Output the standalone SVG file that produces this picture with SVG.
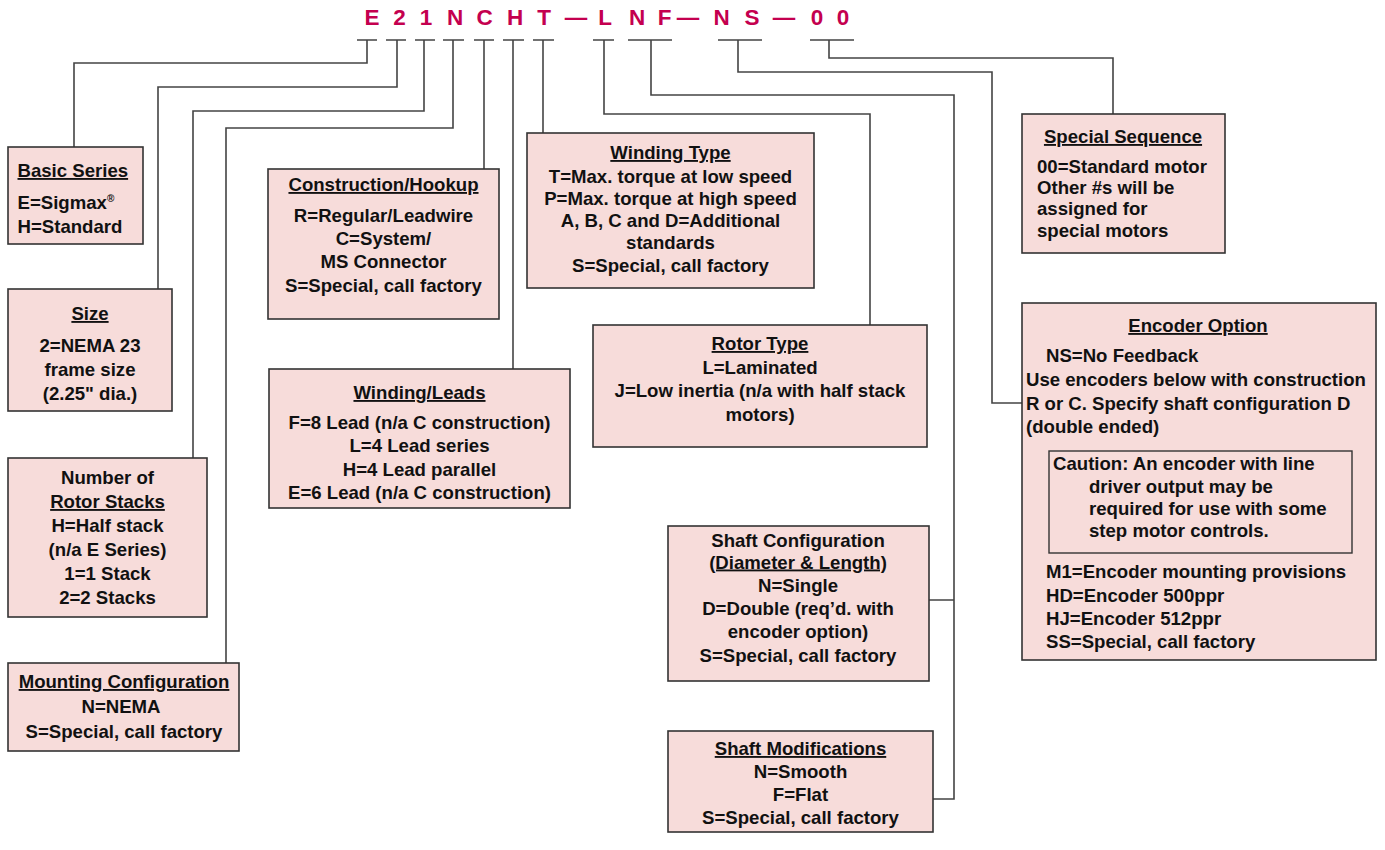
<svg xmlns="http://www.w3.org/2000/svg" width="1385" height="850" viewBox="0 0 1385 850">
<style>
.bg{fill:#ffffff}
.box{fill:#f7dcda;stroke:#333333;stroke-width:1.6}
.inner{fill:none;stroke:#333333;stroke-width:1.4}
.c{fill:none;stroke:#444444;stroke-width:1.6}
text{font-family:"Liberation Sans",Arial,Helvetica,sans-serif;font-weight:bold;font-size:18.6px;fill:#111111}
.m{text-anchor:middle}
.u{text-decoration:underline}
.code{fill:#c4004f;font-size:22.5px;text-anchor:middle}
.sup{font-size:10px}
</style>
<rect class="bg" x="0" y="0" width="1385" height="850"/>

<g id="code">
<text class="code" x="372" y="25">E</text>
<text class="code" x="399.5" y="25">2</text>
<text class="code" x="426" y="25">1</text>
<text class="code" x="455" y="25">N</text>
<text class="code" x="484.5" y="25">C</text>
<text class="code" x="515" y="25">H</text>
<text class="code" x="544" y="25">T</text>
<text class="code" x="576" y="25">—</text>
<text class="code" x="605" y="25">L</text>
<text class="code" x="637" y="25">N</text>
<text class="code" x="664.5" y="25">F</text>
<text class="code" x="688" y="25">—</text>
<text class="code" x="721.5" y="25">N</text>
<text class="code" x="752" y="25">S</text>
<text class="code" x="784" y="25">—</text>
<text class="code" x="817" y="25">0</text>
<text class="code" x="843" y="25">0</text>
</g>

<g id="connectors">
<path class="c" d="M357,40H377M386,40H406M415,40H435M443,40H464M474,40H494M503,40H524M533,40H554M593,40H614M628,40H672M718,40H762M810,40H854"/>
<path class="c" d="M367,40V63H74V147"/>
<path class="c" d="M397,40V87H158V289"/>
<path class="c" d="M424,40V111H193V458"/>
<path class="c" d="M453,40V128H226V663"/>
<path class="c" d="M484,40V169"/>
<path class="c" d="M513,40V369"/>
<path class="c" d="M543,40V133"/>
<path class="c" d="M604,40V114H870V325"/>
<path class="c" d="M651,40V95H954V799H933M929,600H954"/>
<path class="c" d="M738,40V72H992V403H1022"/>
<path class="c" d="M829,40V58H1113V114"/>
</g>

<g id="basic-series">
<rect class="box" x="8" y="147" width="135" height="97"/>
<text class="u" x="17.5" y="177">Basic Series</text>
<text x="17.5" y="209">E=Sigmax<tspan class="sup" dy="-7">®</tspan></text>
<text x="17.5" y="233">H=Standard</text>
</g>

<g id="size">
<rect class="box" x="8" y="289" width="164" height="122"/>
<text class="m u" x="90" y="320">Size</text>
<text class="m" x="90" y="352">2=NEMA 23</text>
<text class="m" x="90" y="376">frame size</text>
<text class="m" x="90" y="400">(2.25" dia.)</text>
</g>

<g id="rotor-stacks">
<rect class="box" x="8" y="458" width="199" height="159"/>
<text class="m" x="107.5" y="484">Number of</text>
<text class="m u" x="107.5" y="508">Rotor Stacks</text>
<text class="m" x="107.5" y="532">H=Half stack</text>
<text class="m" x="107.5" y="556">(n/a E Series)</text>
<text class="m" x="107.5" y="580">1=1 Stack</text>
<text class="m" x="107.5" y="604">2=2 Stacks</text>
</g>

<g id="mounting">
<rect class="box" x="8" y="663" width="231" height="88"/>
<text class="m u" x="124" y="688">Mounting Configuration</text>
<text class="m" x="121" y="713">N=NEMA</text>
<text class="m" x="124" y="738">S=Special, call factory</text>
</g>

<g id="construction">
<rect class="box" x="268" y="169" width="231" height="150"/>
<text class="m u" x="383.5" y="191">Construction/Hookup</text>
<text class="m" x="383.5" y="222">R=Regular/Leadwire</text>
<text class="m" x="383.5" y="245">C=System/</text>
<text class="m" x="383.5" y="268">MS Connector</text>
<text class="m" x="383.5" y="292">S=Special, call factory</text>
</g>

<g id="winding-leads">
<rect class="box" x="269" y="369" width="301" height="139"/>
<text class="m u" x="419.5" y="399">Winding/Leads</text>
<text class="m" x="419.5" y="429">F=8 Lead (n/a C construction)</text>
<text class="m" x="419.5" y="452">L=4 Lead series</text>
<text class="m" x="419.5" y="476">H=4 Lead parallel</text>
<text class="m" x="419.5" y="499">E=6 Lead (n/a C construction)</text>
</g>

<g id="winding-type">
<rect class="box" x="527" y="133" width="287" height="155"/>
<text class="m u" x="670.5" y="159">Winding Type</text>
<text class="m" x="670.5" y="182.5">T=Max. torque at low speed</text>
<text class="m" x="670.5" y="205">P=Max. torque at high speed</text>
<text class="m" x="670.5" y="227">A, B, C and D=Additional</text>
<text class="m" x="670.5" y="249">standards</text>
<text class="m" x="670.5" y="272">S=Special, call factory</text>
</g>

<g id="rotor-type">
<rect class="box" x="593" y="325" width="334" height="122"/>
<text class="m u" x="760" y="350">Rotor Type</text>
<text class="m" x="760" y="374">L=Laminated</text>
<text class="m" x="760" y="397">J=Low inertia (n/a with half stack</text>
<text class="m" x="760" y="421">motors)</text>
</g>

<g id="shaft-config">
<rect class="box" x="668" y="526" width="261" height="155"/>
<text class="m" x="798" y="547">Shaft Configuration</text>
<text class="m u" x="798" y="568.5">(Diameter &amp; Length)</text>
<text class="m" x="798" y="592">N=Single</text>
<text class="m" x="798" y="615">D=Double (req’d. with</text>
<text class="m" x="798" y="638">encoder option)</text>
<text class="m" x="798" y="662">S=Special, call factory</text>
</g>

<g id="shaft-mod">
<rect class="box" x="668" y="731" width="265" height="101"/>
<text class="m u" x="800.5" y="755">Shaft Modifications</text>
<text class="m" x="800.5" y="778">N=Smooth</text>
<text class="m" x="800.5" y="801">F=Flat</text>
<text class="m" x="800.5" y="824">S=Special, call factory</text>
</g>

<g id="special-sequence">
<rect class="box" x="1022" y="114" width="203" height="139"/>
<text class="m u" x="1123" y="143">Special Sequence</text>
<text x="1037" y="173">00=Standard motor</text>
<text x="1037" y="194">Other #s will be</text>
<text x="1037" y="215">assigned for</text>
<text x="1037" y="237">special motors</text>
</g>

<g id="encoder">
<rect class="box" x="1022" y="303" width="354" height="357"/>
<text class="m u" x="1198" y="332">Encoder Option</text>
<text x="1046" y="362">NS=No Feedback</text>
<text x="1026" y="386">Use encoders below with construction</text>
<text x="1026" y="410">R or C. Specify shaft configuration D</text>
<text x="1026" y="433">(double ended)</text>
<rect class="inner" x="1049" y="451" width="303" height="102"/>
<text x="1053" y="470">Caution: An encoder with line</text>
<text x="1089" y="493">driver output may be</text>
<text x="1089" y="515">required for use with some</text>
<text x="1089" y="537">step motor controls.</text>
<text x="1046" y="578">M1=Encoder mounting provisions</text>
<text x="1046" y="602">HD=Encoder 500ppr</text>
<text x="1046" y="625">HJ=Encoder 512ppr</text>
<text x="1046" y="648">SS=Special, call factory</text>
</g>
</svg>
